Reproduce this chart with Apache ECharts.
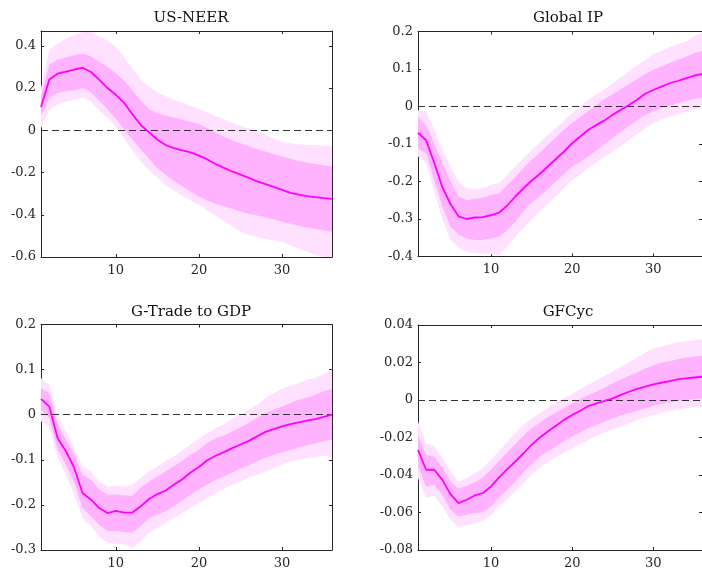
<!DOCTYPE html>
<html>
<head>
<meta charset="utf-8">
<script src="https://cdn.jsdelivr.net/npm/echarts@6/dist/echarts.min.js"></script>
<style>
html,body{margin:0;padding:0;background:#fff;}
#chart{width:702px;height:570px;}
</style>
</head>
<body>
<div id="chart"></div>
<script>
// Horizons
const horizon = [1,2,3,4,5,6,7,8,9,10,11,12,13,14,15,16,17,18,19,20,21,22,23,24,25,26,27,28,29,30,31,32,33,34,35,36];
const xTicks = [10, 20, 30];

// Panel titles
const titles = ['US-NEER', 'Global IP', 'G-Trade to GDP', 'GFCyc'];

// US-NEER
const neerMedian = [0.11,0.24,0.268,0.278,0.287,0.296,0.276,0.24,0.2,0.168,0.13,0.075,0.025,-0.01,-0.045,-0.07,-0.085,-0.095,-0.105,-0.12,-0.138,-0.16,-0.178,-0.195,-0.21,-0.225,-0.242,-0.255,-0.268,-0.282,-0.296,-0.305,-0.312,-0.317,-0.321,-0.325];
const neerInnerHi = [0.16,0.31,0.335,0.345,0.355,0.362,0.35,0.325,0.3,0.27,0.235,0.19,0.14,0.1,0.08,0.07,0.06,0.05,0.04,0.03,0.01,-0.01,-0.03,-0.047,-0.062,-0.076,-0.09,-0.1,-0.112,-0.124,-0.135,-0.145,-0.153,-0.16,-0.166,-0.171];
const neerInnerLo = [0.07,0.154,0.178,0.185,0.19,0.2,0.18,0.14,0.1,0.055,0.005,-0.045,-0.09,-0.135,-0.18,-0.21,-0.24,-0.265,-0.29,-0.315,-0.333,-0.348,-0.36,-0.373,-0.386,-0.395,-0.403,-0.412,-0.422,-0.433,-0.443,-0.452,-0.46,-0.468,-0.475,-0.48];
const neerOuterHi = [0.2,0.38,0.41,0.435,0.45,0.465,0.465,0.445,0.425,0.395,0.345,0.29,0.24,0.205,0.18,0.16,0.145,0.13,0.115,0.1,0.085,0.068,0.052,0.035,0.02,0.008,-0.003,-0.02,-0.04,-0.055,-0.062,-0.066,-0.068,-0.07,-0.073,-0.076];
const neerOuterLo = [0.01,0.098,0.12,0.135,0.145,0.155,0.135,0.095,0.06,0.015,-0.04,-0.095,-0.148,-0.19,-0.225,-0.259,-0.285,-0.31,-0.333,-0.354,-0.38,-0.405,-0.43,-0.455,-0.48,-0.495,-0.505,-0.515,-0.522,-0.529,-0.545,-0.56,-0.575,-0.59,-0.6,-0.6];

// Global IP
const ipMedian = [-0.07,-0.09,-0.15,-0.215,-0.26,-0.293,-0.3,-0.296,-0.295,-0.29,-0.283,-0.264,-0.24,-0.218,-0.198,-0.18,-0.16,-0.14,-0.12,-0.098,-0.08,-0.062,-0.049,-0.037,-0.022,-0.009,0.004,0.018,0.034,0.044,0.053,0.062,0.068,0.075,0.082,0.087];
const ipInnerHi = [-0.027,-0.05,-0.1,-0.15,-0.2,-0.24,-0.249,-0.246,-0.243,-0.236,-0.231,-0.209,-0.187,-0.164,-0.142,-0.123,-0.102,-0.082,-0.062,-0.044,-0.027,-0.011,0.004,0.02,0.033,0.046,0.06,0.073,0.087,0.098,0.107,0.116,0.124,0.133,0.142,0.149];
const ipInnerLo = [-0.111,-0.125,-0.195,-0.267,-0.32,-0.342,-0.351,-0.356,-0.356,-0.351,-0.348,-0.329,-0.307,-0.28,-0.256,-0.24,-0.22,-0.2,-0.18,-0.16,-0.147,-0.133,-0.117,-0.1,-0.084,-0.067,-0.052,-0.037,-0.022,-0.013,-0.004,0.002,0.009,0.015,0.02,0.024];
const ipOuterHi = [-0.01,-0.013,-0.06,-0.115,-0.16,-0.2,-0.218,-0.22,-0.218,-0.209,-0.203,-0.182,-0.16,-0.138,-0.116,-0.096,-0.076,-0.058,-0.037,-0.018,0,0.018,0.033,0.046,0.062,0.078,0.093,0.111,0.124,0.14,0.149,0.158,0.167,0.173,0.187,0.197];
const ipOuterLo = [-0.133,-0.15,-0.227,-0.3,-0.355,-0.378,-0.387,-0.391,-0.393,-0.394,-0.396,-0.373,-0.347,-0.324,-0.302,-0.28,-0.26,-0.24,-0.218,-0.196,-0.182,-0.164,-0.149,-0.133,-0.12,-0.105,-0.089,-0.074,-0.058,-0.044,-0.034,-0.027,-0.02,-0.013,-0.007,-0.002];

// G-Trade to GDP
const tradeMedian = [0.035,0.018,-0.052,-0.081,-0.118,-0.174,-0.188,-0.207,-0.218,-0.213,-0.217,-0.217,-0.203,-0.187,-0.176,-0.168,-0.155,-0.143,-0.128,-0.116,-0.101,-0.091,-0.083,-0.074,-0.066,-0.058,-0.048,-0.038,-0.032,-0.026,-0.021,-0.017,-0.013,-0.01,-0.005,0.0];
const tradeInnerHi = [0.059,0.048,-0.022,-0.055,-0.089,-0.133,-0.144,-0.166,-0.177,-0.177,-0.179,-0.179,-0.162,-0.148,-0.137,-0.126,-0.114,-0.102,-0.089,-0.078,-0.063,-0.053,-0.046,-0.037,-0.028,-0.018,-0.007,0.004,0.011,0.018,0.026,0.033,0.038,0.044,0.052,0.057];
const tradeInnerLo = [0.011,-0.007,-0.078,-0.111,-0.151,-0.207,-0.225,-0.244,-0.258,-0.258,-0.26,-0.262,-0.247,-0.229,-0.222,-0.214,-0.203,-0.19,-0.177,-0.166,-0.155,-0.144,-0.137,-0.128,-0.12,-0.112,-0.103,-0.095,-0.089,-0.083,-0.078,-0.072,-0.068,-0.064,-0.059,-0.055];
const tradeOuterHi = [0.081,0.066,-0.004,-0.037,-0.074,-0.115,-0.126,-0.148,-0.159,-0.157,-0.159,-0.155,-0.14,-0.126,-0.115,-0.103,-0.092,-0.079,-0.066,-0.053,-0.041,-0.03,-0.021,-0.009,0.001,0.011,0.022,0.037,0.048,0.057,0.064,0.07,0.078,0.081,0.09,0.1];
const tradeOuterLo = [-0.015,-0.026,-0.096,-0.133,-0.177,-0.229,-0.247,-0.27,-0.284,-0.286,-0.288,-0.295,-0.281,-0.262,-0.251,-0.24,-0.229,-0.218,-0.207,-0.196,-0.185,-0.174,-0.164,-0.155,-0.148,-0.14,-0.133,-0.126,-0.118,-0.111,-0.103,-0.1,-0.096,-0.094,-0.091,-0.095];

// GFCyc
const gfcMedian = [-0.0266,-0.0372,-0.0372,-0.0426,-0.0502,-0.055,-0.0532,-0.0509,-0.0496,-0.0461,-0.0413,-0.0369,-0.0328,-0.0284,-0.0239,-0.02,-0.0168,-0.0137,-0.0106,-0.008,-0.0057,-0.0032,-0.0018,-0.0005,0.0009,0.0027,0.0044,0.0059,0.0071,0.0083,0.0092,0.0101,0.011,0.0115,0.012,0.0124];
const gfcInnerHi = [-0.0186,-0.0293,-0.0301,-0.036,-0.0434,-0.0473,-0.0457,-0.0438,-0.0413,-0.0372,-0.0324,-0.0278,-0.0234,-0.019,-0.0151,-0.0121,-0.0092,-0.0067,-0.0044,-0.0018,0.0005,0.0027,0.0044,0.0066,0.0089,0.011,0.0129,0.0147,0.0168,0.0186,0.0199,0.0207,0.0218,0.0225,0.0232,0.0236];
const gfcInnerLo = [-0.0355,-0.0461,-0.0452,-0.0505,-0.0585,-0.0621,-0.0612,-0.0603,-0.06,-0.0567,-0.052,-0.0479,-0.0434,-0.0385,-0.0342,-0.0301,-0.0275,-0.0248,-0.0218,-0.0195,-0.0174,-0.0151,-0.0133,-0.0115,-0.0098,-0.0083,-0.0071,-0.0059,-0.0044,-0.003,-0.0021,-0.0012,-0.0005,0.0,0.0005,0.0009];
const gfcOuterHi = [-0.0115,-0.023,-0.0248,-0.031,-0.0381,-0.0434,-0.0417,-0.039,-0.0363,-0.0319,-0.0271,-0.0222,-0.0177,-0.0133,-0.0098,-0.0071,-0.0041,-0.0012,0.0009,0.0032,0.0059,0.0083,0.0106,0.0129,0.0154,0.0177,0.02,0.0225,0.0252,0.0275,0.0284,0.0296,0.0307,0.0314,0.0319,0.0323];
const gfcOuterLo = [-0.0417,-0.0523,-0.0509,-0.0567,-0.0638,-0.0679,-0.0668,-0.0656,-0.0644,-0.0615,-0.0567,-0.0532,-0.0488,-0.0443,-0.0399,-0.036,-0.0332,-0.0305,-0.028,-0.0257,-0.0236,-0.0213,-0.0191,-0.0172,-0.0156,-0.0142,-0.0124,-0.0106,-0.0092,-0.008,-0.0071,-0.0059,-0.005,-0.0044,-0.0039,-0.0035];

// Y tick labels per panel
const yTicks = [
  [-0.6,-0.4,-0.2,0,0.2,0.4],
  [-0.4,-0.3,-0.2,-0.1,0,0.1,0.2],
  [-0.3,-0.2,-0.1,0,0.1,0.2],
  [-0.08,-0.06,-0.04,-0.02,0,0.02,0.04]
];
const yRanges = [[-0.6,0.47],[-0.4,0.2],[-0.3,0.2],[-0.08,0.04]];

const panels = [
  {med: neerMedian, ih: neerInnerHi, il: neerInnerLo, oh: neerOuterHi, ol: neerOuterLo},
  {med: ipMedian, ih: ipInnerHi, il: ipInnerLo, oh: ipOuterHi, ol: ipOuterLo},
  {med: tradeMedian, ih: tradeInnerHi, il: tradeInnerLo, oh: tradeOuterHi, ol: tradeOuterLo},
  {med: gfcMedian, ih: gfcInnerHi, il: gfcInnerLo, oh: gfcOuterHi, ol: gfcOuterLo}
];

const FONT = 'DejaVu Serif';
const AX = '#262626';
const grids = [
  {left: 41, top: 31, width: 291, height: 226},
  {left: 418, top: 31.5, width: 290, height: 225},
  {left: 41, top: 324.5, width: 291, height: 226},
  {left: 418, top: 325, width: 290, height: 226}
];
const titlePos = [[186, 6], [563, 6], [186, 299.5], [563, 299.5]];

const xAxes = [], yAxes = [], series = [], titleCfg = [];
grids.forEach((g, gi) => {
  const common = {type: 'value', gridIndex: gi, min: 1, max: 36,
    axisLine: {show: true, onZero: false, lineStyle: {color: AX, width: 1}},
    splitLine: {show: false}};
  xAxes.push(Object.assign({}, common, {position: 'bottom',
    axisTick: {show: true, inside: true, length: 3, customValues: xTicks, lineStyle: {color: AX}},
    axisLabel: {show: true, customValues: xTicks, margin: 7, color: AX, fontFamily: FONT, fontSize: 13}}));
  xAxes.push(Object.assign({}, common, {position: 'top',
    axisTick: {show: true, inside: true, length: 3, customValues: xTicks, lineStyle: {color: AX}},
    axisLabel: {show: false}}));
  const ycommon = {type: 'value', gridIndex: gi, min: yRanges[gi][0], max: yRanges[gi][1],
    axisLine: {show: true, onZero: false, lineStyle: {color: AX, width: 1}},
    splitLine: {show: false}};
  yAxes.push(Object.assign({}, ycommon, {position: 'left',
    axisTick: {show: true, inside: true, length: 3, customValues: yTicks[gi], lineStyle: {color: AX}},
    axisLabel: {show: true, customValues: yTicks[gi], margin: 5, color: AX, fontFamily: FONT, fontSize: 13,
      formatter: v => String(v)}}));
  yAxes.push(Object.assign({}, ycommon, {position: 'right',
    axisTick: {show: true, inside: true, length: 3, customValues: yTicks[gi], lineStyle: {color: AX}},
    axisLabel: {show: false}}));

  const p = panels[gi];
  const band = (lo, hi, color, z) => ({
    type: 'custom', xAxisIndex: 2 * gi, yAxisIndex: 2 * gi, silent: true, clip: true, z: z,
    data: horizon.map((h, i) => [h, lo[i], hi[i]]),
    encode: {x: 0, y: [1, 2]},
    renderItem: function (params, api) {
      if (params.dataIndex !== 0) return;
      const pts = [];
      for (let i = 0; i < horizon.length; i++) pts.push(api.coord([horizon[i], hi[i]]));
      for (let i = horizon.length - 1; i >= 0; i--) pts.push(api.coord([horizon[i], lo[i]]));
      return {type: 'polygon', shape: {points: pts}, style: {fill: color}};
    }
  });
  series.push(band(p.ol, p.oh, '#ffe0ff', 1));
  series.push(band(p.il, p.ih, '#ffb3ff', 2));
  series.push({
    type: 'line', xAxisIndex: 2 * gi, yAxisIndex: 2 * gi, silent: true, z: 4,
    data: horizon.map((h, i) => [h, p.med[i]]),
    showSymbol: false, symbol: 'none',
    lineStyle: {color: '#ff00ff', width: 1.8},
    markLine: {silent: true, symbol: 'none', label: {show: false},
      lineStyle: {color: '#333333', type: [7, 4], width: 1.2},
      data: [{yAxis: 0}], z: 3}
  });
  titleCfg.push({text: titles[gi], left: titlePos[gi][0], top: titlePos[gi][1], textAlign: 'center',
    textStyle: {fontFamily: FONT, fontSize: 15, fontWeight: 'normal', color: '#111'}});
});

const chart = echarts.init(document.getElementById('chart'), null, {renderer: 'canvas'});
chart.setOption({
  animation: false,
  backgroundColor: '#ffffff',
  title: titleCfg,
  grid: grids,
  xAxis: xAxes,
  yAxis: yAxes,
  series: series
});
</script>
</body>
</html>
